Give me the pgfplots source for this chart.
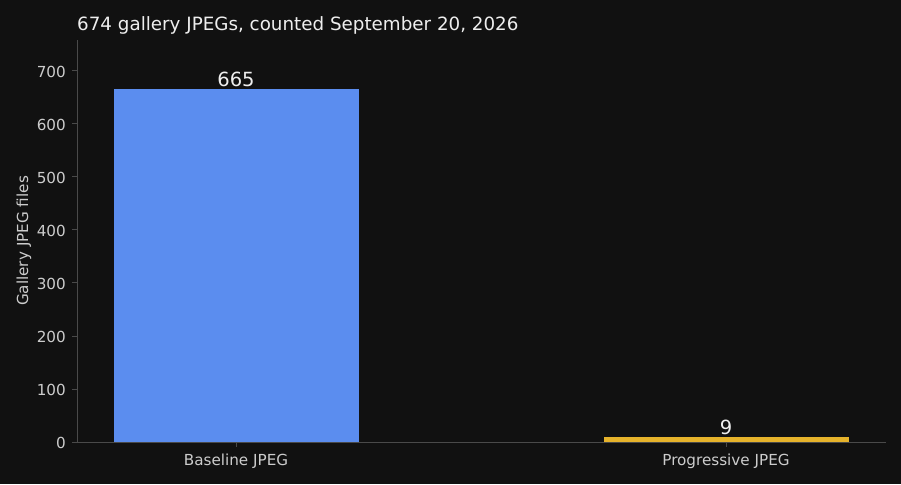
\documentclass[border=0pt]{standalone}
\usepackage{fontspec}
\setmainfont{DejaVu Sans}
\usepackage{pgfplots}
\pgfplotsset{compat=1.18}

\definecolor{bg}{HTML}{111111}
\definecolor{barblue}{HTML}{5B8DEF}
\definecolor{baryellow}{HTML}{E6B32B}
\definecolor{spine}{HTML}{4A4A4A}
\definecolor{ticktext}{HTML}{CCCCCC}
\definecolor{titletext}{HTML}{EEEEEE}

\begin{document}
\begin{tikzpicture}
\fill[bg] (-77pt,-42pt) rectangle (824pt,442pt);
\useasboundingbox (-77pt,-42pt) rectangle (824pt,442pt);
\begin{axis}[
    at={(0pt,0pt)}, anchor=south west,
    scale only axis,
    width=809pt, height=402pt,
    xmin=-0.3245, xmax=1.3265,
    ymin=0, ymax=758,
    axis lines*=left,
    axis line style={spine, line width=0.8pt},
    tick style={spine, line width=0.8pt},
    tick align=outside,
    major tick length=5pt,
    xtick={0,1},
    xticklabels={Baseline JPEG, Progressive JPEG},
    ytick={0,100,...,700},
    /pgf/number format/assume math mode=true,
    ticklabel style={font=\fontsize{15.2}{17}\selectfont, text=ticktext},
    xticklabel style={anchor=base, inner sep=0pt, yshift=-18.5pt},
    yticklabel style={anchor=east, inner sep=0pt, xshift=-6pt, yshift=-0.8pt},
    ylabel={Gallery JPEG files},
    ylabel style={at={(axis description cs:-0.0655,0.5)}, anchor=center,
        font=\fontsize{15.2}{17}\selectfont, text=ticktext},
    title={674 gallery JPEGs, counted September 20, 2026},
    title style={at={(0,1)}, anchor=base west, yshift=3pt, inner sep=0pt,
        font=\fontsize{18.3}{21}\selectfont, text=titletext},
    ybar, bar width=245pt,
    nodes near coords,
    every node near coord/.append style={font=\fontsize{19.5}{22}\selectfont,
        text=titletext, anchor=base, inner sep=0pt, yshift=2.5pt},
]
\addplot[fill=barblue, draw=none, bar shift=0pt] coordinates {(0,665)};
\addplot[fill=baryellow, draw=none, bar shift=0pt] coordinates {(1,9)};
\end{axis}
\end{tikzpicture}
\end{document}
